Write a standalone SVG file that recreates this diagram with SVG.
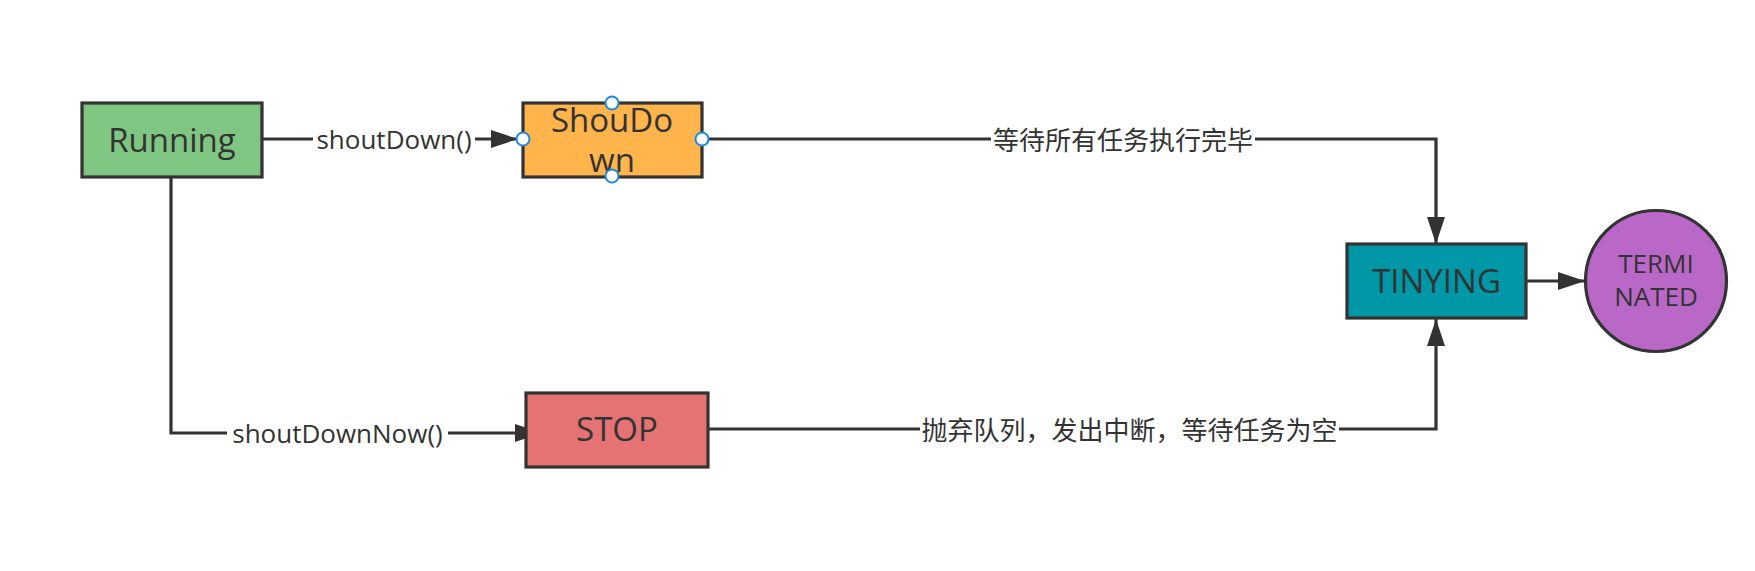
<svg xmlns="http://www.w3.org/2000/svg" width="1755" height="571" viewBox="0 0 1755 571">
  <style>
    .node { stroke: #333333; stroke-width: 3.2; }
    .lbl { font-family: "Open Sans", "Noto Sans", sans-serif; fill: #333333; text-anchor: middle; }
    .big { font-size: 33px; }
    .mid { font-size: 26px; }
    .cjk { font-family: "Noto Sans CJK SC", sans-serif; font-size: 26px; fill: #333333; text-anchor: middle; }
    .conn { fill: none; stroke: #333333; stroke-width: 3.2; }
    .bg { fill: #ffffff; }
    .handle { fill: #ffffff; stroke: #1e88e5; stroke-width: 2; }
  </style>
  <defs>
    <marker id="arrow" markerUnits="userSpaceOnUse" markerWidth="27" markerHeight="18" refX="27" refY="9" orient="auto">
      <path d="M0,0 L27,9 L0,18 Z" fill="#333333"/>
    </marker>
  </defs>
  <rect width="1755" height="571" fill="#ffffff"/>

  <g id="connectors">
    <path class="conn" d="M262,139 H518" marker-end="url(#arrow)"/>
    <path class="conn" d="M702,139 H1436 V244" marker-end="url(#arrow)"/>
    <path class="conn" d="M171,177 V433 H542" marker-end="url(#arrow)"/>
    <path class="conn" d="M708,429 H1436 V319" marker-end="url(#arrow)"/>
    <path class="conn" d="M1526,281 H1585" marker-end="url(#arrow)"/>
    <rect class="bg" x="313" y="124" width="162" height="30"/>
    <text class="lbl mid" x="394" y="149">shoutDown()</text>
    <rect class="bg" x="991" y="124" width="264" height="32"/>
    <text class="cjk" x="1123" y="150">等待所有任务执行完毕</text>
    <rect class="bg" x="227" y="418" width="221" height="30"/>
    <text class="lbl mid" x="337.5" y="443">shoutDownNow()</text>
    <rect class="bg" x="920" y="414" width="419" height="32"/>
    <text class="cjk" x="1129.5" y="440">抛弃队列，发出中断，等待任务为空</text>
  </g>

  <g id="running">
    <rect class="node" x="82" y="103" width="180" height="74" fill="#80c683"/>
    <text class="lbl big" x="172" y="152">Running</text>
  </g>

  <g id="shoudown">
    <rect class="node" x="523" y="103" width="179" height="74" fill="#ffb44c"/>
    <text class="lbl big" x="612" y="132">ShouDo</text>
    <text class="lbl big" x="612" y="172">wn</text>
    <circle class="handle" cx="523" cy="139" r="6.5"/>
    <circle class="handle" cx="702" cy="139" r="6.5"/>
    <circle class="handle" cx="612" cy="103" r="6.5"/>
    <circle class="handle" cx="612" cy="176" r="6.5"/>
  </g>

  <g id="stop">
    <rect class="node" x="526" y="393" width="182" height="74" fill="#e57373"/>
    <text class="lbl big" x="617" y="441">STOP</text>
  </g>

  <g id="tinying">
    <rect class="node" x="1347" y="244" width="179" height="74" fill="#0097a7"/>
    <text class="lbl big" x="1436.5" y="293">TINYING</text>
  </g>

  <g id="terminated">
    <circle class="node" cx="1656" cy="281" r="70.5" fill="#ba68c8"/>
    <text class="lbl mid" x="1656" y="273">TERMI</text>
    <text class="lbl mid" x="1656" y="306">NATED</text>
  </g>
</svg>
